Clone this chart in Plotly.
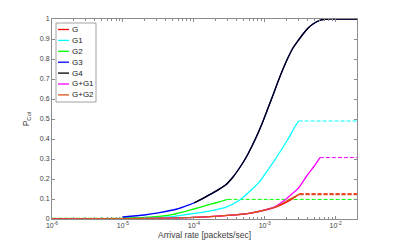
import plotly.graph_objects as go

# ---- data ----
# G4 (black) and upper part of G3 (blue), they coincide
g4_x = [1.0e-4, 2.0e-4, 2.8e-4, 3.57e-4, 4.5e-4, 5.5e-4, 7.6e-4, 9.0e-4, 1.1e-3, 1.31e-3,
        1.55e-3, 1.81e-3, 2.15e-3, 2.5e-3, 3.0e-3, 3.47e-3, 4.1e-3, 4.8e-3, 5.7e-3,
        6.6e-3, 8.0e-3, 1.0e-2, 2.0e-2]
g4_y = [0.08, 0.137, 0.17, 0.21, 0.26, 0.31, 0.41, 0.47, 0.55, 0.62,
        0.69, 0.75, 0.81, 0.855, 0.895, 0.925, 0.955, 0.975, 0.99,
        0.997, 1.0, 1.0, 1.0]

g3_low_x = [1.0e-5, 2.0e-5, 3.3e-5, 5.8e-5, 8.7e-5]
g3_low_y = [0.01, 0.02, 0.032, 0.05, 0.072]

g2_x = [1.0e-5, 2.0e-5, 5.0e-5, 1.0e-4, 1.5e-4, 2.0e-4, 2.5e-4, 3.0e-4]
g2_y = [0.005, 0.008, 0.022, 0.05, 0.068, 0.08, 0.09, 0.098]

g1_x = [1.0e-5, 5.0e-5, 8.8e-5, 1.5e-4, 2.8e-4, 4.45e-4, 6.8e-4, 8.5e-4, 1.11e-3,
        1.54e-3, 2.13e-3, 2.65e-3, 3.0e-3]
g1_y = [0.003, 0.012, 0.025, 0.037, 0.058, 0.095, 0.153, 0.187, 0.245,
        0.32, 0.40, 0.46, 0.49]

gg1_x = [1.0e-6, 1.0e-5, 1.0e-4, 3.0e-4, 6.0e-4, 1.0e-3, 1.4e-3, 2.0e-3, 2.5e-3,
         3.0e-3, 4.0e-3, 5.0e-3, 6.0e-3]
gg1_y = [0.0, 0.002, 0.008, 0.018, 0.028, 0.045, 0.062, 0.10, 0.13, 0.155, 0.22, 0.265, 0.307]

g_x = [1.0e-6, 1.0e-5, 1.0e-4, 3.0e-4, 6.0e-4, 1.0e-3, 1.4e-3, 2.0e-3, 2.5e-3, 3.1e-3]
g_y = [0.0, 0.002, 0.008, 0.018, 0.028, 0.044, 0.058, 0.083, 0.103, 0.125]

gg2_x = [1.0e-6, 1.0e-5, 1.0e-4, 3.0e-4, 6.0e-4, 1.0e-3, 1.4e-3, 2.0e-3, 2.5e-3, 3.1e-3]
gg2_y = [0.0, 0.002, 0.008, 0.018, 0.028, 0.045, 0.06, 0.088, 0.107, 0.125]

# saturation (dashed) levels
x_end = 2.0e-2
g1_sat = 0.49
g2_sat = 0.098
gg1_sat = 0.307
g_sat = 0.125
gg2_sat = 0.122

legend_names = ["G", "G1", "G2", "G3", "G4", "G+G1", "G+G2"]

x_tick_vals = [1e-6, 1e-5, 1e-4, 1e-3, 1e-2]
x_tick_text = ["10<sup>-6</sup>", "10<sup>-5</sup>", "10<sup>-4</sup>",
               "10<sup>-3</sup>", "10<sup>-2</sup>"]
y_tick_vals = [0, 0.1, 0.2, 0.3, 0.4, 0.5, 0.6, 0.7, 0.8, 0.9, 1]
y_tick_text = ["0", "0.1", "0.2", "0.3", "0.4", "0.5", "0.6", "0.7", "0.8", "0.9", "1"]

RED = "#ff0000"
CYAN = "#00ffff"
GREEN = "#00ff00"
BLUE = "#0000ff"
BLACK = "#000000"
MAGENTA = "#ff00ff"
BROWN = "#d95319"
legend_colors = [RED, CYAN, GREEN, BLUE, BLACK, MAGENTA, BROWN]

fig = go.Figure()

def dashed(x0, x1, y, color, w=1.0):
    fig.add_trace(go.Scatter(x=[x0, x1], y=[y, y], mode="lines", showlegend=False,
                             line=dict(color=color, width=w, dash="4px,2px"), hoverinfo="skip"))

dashed(g2_x[-1], x_end, g2_sat, GREEN)
dashed(g1_x[-1], x_end, g1_sat, CYAN)
dashed(gg1_x[-1], x_end, gg1_sat, MAGENTA)
dashed(g_x[-1], x_end, g_sat, RED, 1.5)
dashed(gg2_x[-1], x_end, gg2_sat, BROWN, 1.5)
dashed(1e-6, g2_x[0], g2_y[0] - 0.001, GREEN, 0.8)

def solid(x, y, color, name, w=1.3):
    fig.add_trace(go.Scatter(x=x, y=y, mode="lines", name=name, showlegend=False,
                             line=dict(color=color, width=w, shape="spline", smoothing=0.6)))

solid(g_x, g_y, RED, "G")
solid(g1_x, g1_y, CYAN, "G1")
solid(g2_x, g2_y, GREEN, "G2")
solid(g3_low_x + g4_x, g3_low_y + g4_y, BLUE, "G3")
solid(g4_x, g4_y, BLACK, "G4")
solid(gg1_x, gg1_y, MAGENTA, "G+G1")
solid(gg2_x, gg2_y, BROWN, "G+G2")

minor_vals = [m * 10 ** e for e in range(-6, -1) for m in range(2, 10) if m * 10 ** e <= x_end]

axis_col = "#8c8c8c"
font_col = "#404040"

# page offset of the figure (default body margin) and target plot box in page pixels
OFF = 8
W, H = 395 - OFF, 246 - OFF
L, R, T, B = 52, 357, 19, 219

def px(x):
    return (x - L) / (R - L)
def py(y):
    return (B - y) / (B - T)

shapes = [dict(type="rect", xref="paper", yref="paper", x0=px(56), x1=px(96),
               y0=py(102), y1=py(23), line=dict(color=axis_col, width=0.8),
               fillcolor="white", layer="above")]
annotations = []
row0, step = 29.5, 10.9
for i, (nm, col) in enumerate(zip(legend_names, legend_colors)):
    yy = row0 + i * step
    shapes.append(dict(type="line", xref="paper", yref="paper", x0=px(58), x1=px(69),
                       y0=py(yy), y1=py(yy), line=dict(color=col, width=1.3), layer="above"))
    annotations.append(dict(xref="paper", yref="paper", x=px(69.5), y=py(yy), text=nm,
                            showarrow=False, xanchor="left", yanchor="middle",
                            font=dict(size=8, color="#202020")))

fig.update_layout(
    width=W, height=H,
    margin=dict(l=L - OFF, r=W - (R - OFF), t=T - OFF, b=H - (B - OFF), pad=0),
    paper_bgcolor="white", plot_bgcolor="white",
    font=dict(family="Liberation Sans, Arial, sans-serif", size=7, color=font_col),
    showlegend=False,
    shapes=shapes, annotations=annotations,
    xaxis=dict(type="log", range=[-6, 1.30103 - 3], showgrid=False, zeroline=False,
               automargin=False,
               showline=True, linecolor=axis_col, linewidth=1, mirror="ticks",
               ticks="inside", ticklen=3, tickcolor=axis_col,
               tickmode="array", tickvals=x_tick_vals, ticktext=x_tick_text,
               tickfont=dict(size=7, color=font_col),
               minor=dict(ticks="inside", ticklen=2, tickcolor=axis_col,
                          tickvals=minor_vals, showgrid=False),
               title=dict(text="Arrival rate [packets/sec]", font=dict(size=8.5, color=font_col),
                          standoff=3)),
    yaxis=dict(range=[0, 1], showgrid=False, zeroline=False,
               automargin=False,
               showline=True, linecolor=axis_col, linewidth=1, mirror="ticks",
               ticks="inside", ticklen=3, tickcolor=axis_col,
               tickmode="array", tickvals=y_tick_vals, ticktext=y_tick_text,
               tickfont=dict(size=7, color=font_col),
               title=dict(text="P<sub>Col</sub>", font=dict(size=8.5, color=font_col),
                          standoff=8)),
)

fig.write_html("out.html")
